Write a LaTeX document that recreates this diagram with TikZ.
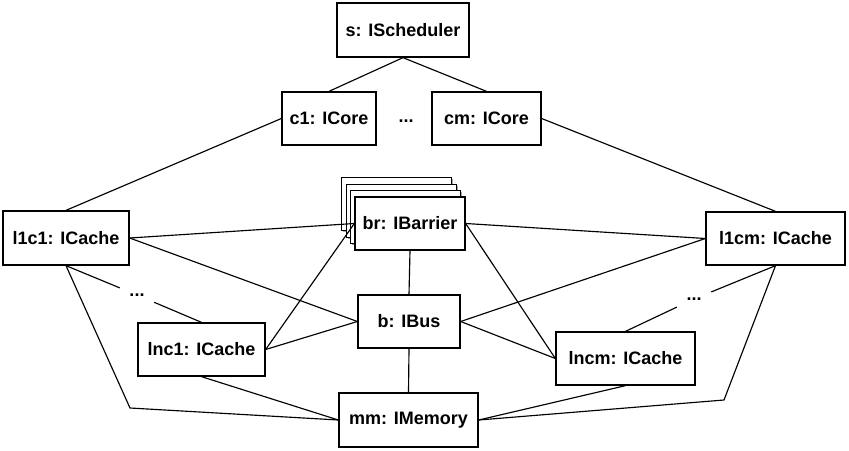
\documentclass[tikz,border=0pt]{standalone}
\usepackage{fontspec}
\setmainfont{Liberation Sans}
\usetikzlibrary{shadows}
\tikzset{
  obj/.style={draw=black, line width=1.3pt, fill=white, inner sep=0pt,
    font=\fontsize{18}{20}\selectfont\bfseries,
    drop shadow={shadow xshift=1.3pt, shadow yshift=-1.3pt, opacity=0.35, fill=black}},
  conn/.style={draw=black, line width=1.15pt},
  dotsnode/.style={inner sep=0pt, minimum width=34pt, minimum height=22pt,
    font=\fontsize{18}{20}\selectfont\bfseries}
}
\begin{document}
\begin{tikzpicture}[x=1pt,y=-1pt]
\useasboundingbox (0,0) rectangle (849,450);
% stacked barrier copies behind
\node[obj, minimum width=110pt, minimum height=53pt] (bk3) at (396.8,204.3) {};
\node[obj, minimum width=110pt, minimum height=53pt] (bk2) at (401.2,210.7) {};
\node[obj, minimum width=110pt, minimum height=53pt] (bk1) at (405.6,217.1) {};
% main nodes
\node[obj, minimum width=132pt, minimum height=54pt] (s) at (403,30) {s: IScheduler};
\node[obj, minimum width=94pt, minimum height=53pt] (c1) at (329,118.5) {c1: ICore};
\node[obj, minimum width=109pt, minimum height=53pt] (cm) at (486.5,118.5) {cm: ICore};
\node[dotsnode] (d0) at (406,121) {...};
\node[obj, minimum width=126pt, minimum height=54pt] (l1c1) at (66,238) {l1c1: ICache};
\node[obj, minimum width=139pt, minimum height=53pt] (l1cm) at (775.5,238.5) {l1cm: ICache};
\node[obj, minimum width=110pt, minimum height=53pt] (br) at (410,223.5) {br: IBarrier};
\node[obj, minimum width=102pt, minimum height=53pt] (b) at (409,321.5) {b: IBus};
\node[obj, minimum width=139pt, minimum height=54pt] (mm) at (408.5,420) {mm: IMemory};
\node[obj, minimum width=127pt, minimum height=53pt] (lnc1) at (201.5,349.5) {lnc1: ICache};
\node[obj, minimum width=139pt, minimum height=53pt] (lncm) at (625.5,358.5) {lncm: ICache};
\node[dotsnode] (d1) at (137,295) {...};
\node[dotsnode] (d2) at (694,299) {...};
\coordinate (k1) at (130,408);
\coordinate (k2) at (724,400);
% connectors
\draw[conn] (s.south) -- (c1.north);
\draw[conn] (s.south) -- (cm.north);
\draw[conn] (c1.west) -- (l1c1.north);
\draw[conn] (cm.east) -- (l1cm.north);
\draw[conn] (l1c1.east) -- (br.west);
\draw[conn] (l1c1.east) -- (b.west);
\draw[conn] (lnc1.east) -- (br.west);
\draw[conn] (lnc1.east) -- (b.west);
\draw[conn] (l1c1.south) -- (d1) -- (lnc1.north);
\draw[conn] (l1c1.south) -- (k1) -- (mm.west);
\draw[conn] (lnc1.south) -- (mm.west);
\draw[conn] (br.east) -- (l1cm.west);
\draw[conn] (br.east) -- (lncm.west);
\draw[conn] (b.east) -- (l1cm.west);
\draw[conn] (b.east) -- (lncm.west);
\draw[conn] (br.south) -- (b.north);
\draw[conn] (b.south) -- (mm.north);
\draw[conn] (l1cm.south) -- (d2) -- (lncm.north);
\draw[conn] (l1cm.south) -- (k2) -- (mm.east);
\draw[conn] (lncm.south) -- (mm.east);
\end{tikzpicture}
\end{document}
